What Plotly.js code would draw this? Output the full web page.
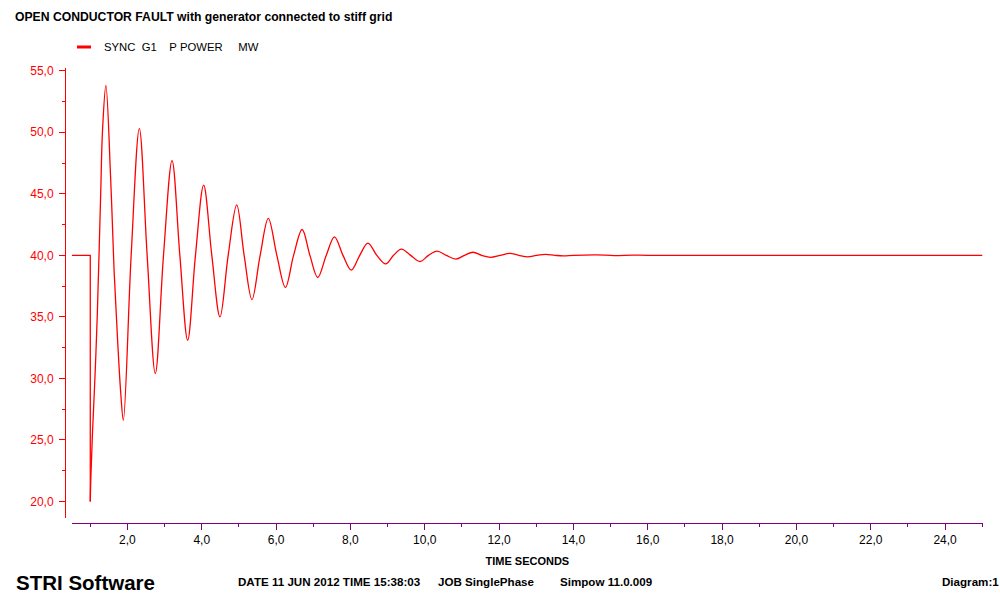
<!DOCTYPE html>
<html>
<head>
<meta charset="utf-8">
<script src="https://cdn.plot.ly/plotly-3.0.1.min.js"></script>
<style>
  html, body { margin: 0; padding: 0; background: #ffffff; }
  #chart { width: 1000px; height: 594px; }
</style>
</head>
<body>
<div id="chart"></div>
<script>
// ---- data ----
// pre-fault steady state and the fault instant (drop)
const faultTime  = [0.5, 1.0, 1.0];
const faultPower = [40.0, 40.0, 20.0];

// post-fault power swing (peaks, troughs and mean crossings)
const swingTime = [
  1.00, 1.015, 1.06, 1.13, 1.19, 1.28, 1.33, 1.42, 1.55, 1.64, 1.73, 1.82, 1.89,
  2.10, 2.32, 2.53, 2.75, 2.97, 3.20, 3.41, 3.62, 3.83, 4.05, 4.27, 4.49,
  4.71, 4.94, 5.14, 5.35, 5.57, 5.79, 6.02, 6.25, 6.47, 6.70, 6.91, 7.12,
  7.35, 7.57, 7.80, 8.02, 8.25, 8.47, 8.71, 8.95, 9.16, 9.37, 9.62, 9.87,
  10.10, 10.33, 10.58, 10.84, 11.07, 11.30, 11.53, 11.77, 12.03, 12.29,
  12.53, 12.77, 13.00, 13.25, 13.50, 13.73, 14.00, 14.60, 15.10, 15.60, 16.00, 25.00
];
const swingPower = [
  20.0, 21.9, 25.6, 30.4, 35.3, 45.0, 50.2, 53.8, 46.1, 38.8, 33.4, 28.8, 26.6,
  40.0, 50.3, 40.0, 30.4, 40.0, 47.7, 40.0, 33.1, 40.0, 45.7, 40.0, 35.0,
  40.0, 44.1, 40.0, 36.4, 40.0, 43.0, 40.0, 37.4, 40.0, 42.1, 40.0, 38.2,
  40.0, 41.5, 40.0, 38.8, 40.0, 41.0, 40.0, 39.3, 40.0, 40.5, 40.0, 39.5,
  40.0, 40.35, 40.0, 39.7, 40.0, 40.25, 40.0, 39.84, 40.0, 40.16,
  40.0, 39.88, 40.0, 40.08, 40.0, 39.95, 40.0, 40.04, 39.98, 40.02, 40.0, 40.0
];

const seriesName = "SYNC\u00a0\u00a0G1\u00a0\u00a0\u00a0\u00a0P\u00a0POWER\u00a0\u00a0\u00a0\u00a0\u00a0MW";
const chartTitle = "OPEN CONDUCTOR FAULT with generator connected to stiff grid";
const xTitle = "TIME SECONDS";
const footer = {
  brand: "STRI Software",
  date: "DATE 11 JUN 2012 TIME 15:38:03",
  job: "JOB SinglePhase",
  prog: "Simpow 11.0.009",
  diag: "Diagram:1"
};

// ---- layout geometry (pixels) ----
const W = 1000, H = 594;
const L = 65, R = 983, T = 68, B = 523;
const pw = R - L, ph = B - T;
const px = x => (x - L) / pw;       // pixel x -> paper
const py = y => (B - y) / ph;       // pixel y -> paper

const FONT = "Liberation Sans, Arial, Helvetica, sans-serif";
const RED = "#ff0000";
const PURPLE = "#800080";

const traces = [
  {
    x: faultTime, y: faultPower, type: "scatter", mode: "lines",
    line: { color: RED, width: 1.3 }, name: seriesName, showlegend: false,
    hoverinfo: "skip"
  },
  {
    x: swingTime, y: swingPower, type: "scatter", mode: "lines",
    line: { color: RED, width: 1.3, shape: "spline", smoothing: 1 },
    name: seriesName, showlegend: false
  }
];

const txt = (text, x, y, size, anchor, bold) => ({
  text: bold ? "<b>" + text + "</b>" : text,
  xref: "paper", yref: "paper", x: px(x), y: py(y),
  xanchor: anchor, yanchor: "middle", showarrow: false,
  font: { family: FONT, size: size, color: "#000000" }
});

const layout = {
  width: W, height: H,
  paper_bgcolor: "#ffffff", plot_bgcolor: "#ffffff",
  separators: ",.",
  margin: { l: L, r: W - R, t: T, b: H - B, pad: 0 },
  showlegend: false,
  title: {
    text: "<b>" + chartTitle + "</b>",
    xref: "container", yref: "container",
    x: 15 / W, xanchor: "left", y: 1 - 17 / H, yanchor: "middle",
    font: { family: FONT, size: 12.2, color: "#000000" }
  },
  xaxis: {
    domain: [px(71.7), 1],
    range: [0.5, 25.02],
    anchor: "free", position: 0,
    showgrid: false, zeroline: false,
    showline: true, linecolor: PURPLE, linewidth: 1,
    ticks: "outside", ticklen: 6, tickcolor: PURPLE, tickwidth: 1,
    tick0: 0, dtick: 2, tickformat: ".1f",
    tickfont: { family: FONT, size: 12, color: "#000000" },
    minor: { dtick: 1, tick0: 0, ticks: "outside", ticklen: 3, tickcolor: PURPLE, tickwidth: 1, showgrid: false },
    title: { text: "<b>" + xTitle + "</b>", standoff: 10,
             font: { family: FONT, size: 11, color: "#000000" } }
  },
  yaxis: {
    domain: [py(518), 1],
    range: [18.66, 55.22],
    anchor: "free", position: 0,
    showgrid: false, zeroline: false,
    showline: true, linecolor: RED, linewidth: 1,
    ticks: "outside", ticklen: 6, tickcolor: RED, tickwidth: 1,
    tick0: 20, dtick: 5, tickformat: ".1f",
    ticklabelstandoff: 3,
    tickfont: { family: FONT, size: 12, color: RED },
    minor: { dtick: 2.5, tick0: 20, ticks: "outside", ticklen: 3, tickcolor: RED, tickwidth: 1, showgrid: false }
  },
  shapes: [
    { type: "line", xref: "paper", yref: "paper",
      x0: px(77), x1: px(91), y0: py(47), y1: py(47),
      line: { color: RED, width: 3 } }
  ],
  annotations: [
    txt(seriesName, 102, 47, 11.3, "left", false),
    txt(footer.brand, 14, 582, 20.5, "left", true),
    txt(footer.date, 236, 581, 11.6, "left", true),
    txt(footer.job, 436, 581, 11.6, "left", true),
    txt(footer.prog, 558, 581, 11.6, "left", true),
    txt(footer.diag, 1001, 581, 11.6, "right", true)
  ]
};

Plotly.newPlot("chart", traces, layout, { staticPlot: true, displayModeBar: false });
</script>
</body>
</html>
